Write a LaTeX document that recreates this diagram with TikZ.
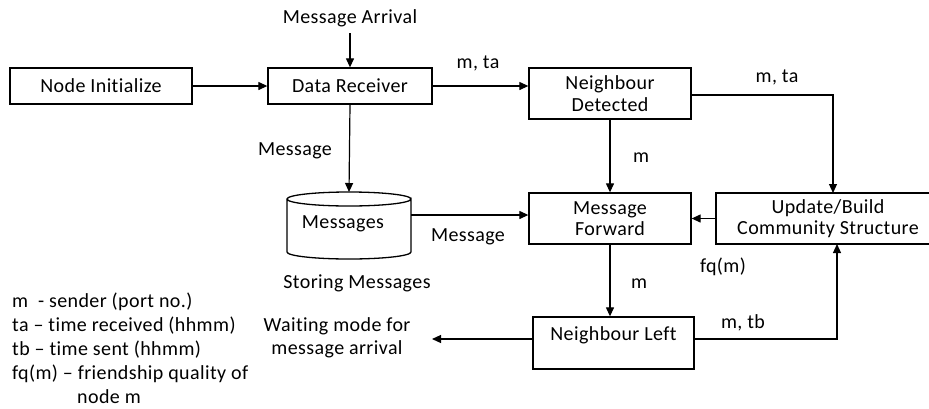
\documentclass[tikz,border=0pt]{standalone}
\usepackage{fontspec}
\setmainfont{Carlito}[Ligatures=NoCommon,LetterSpace=2]
\usetikzlibrary{arrows.meta,calc}
\begin{document}
\begin{tikzpicture}[x=1pt,y=-1pt,
  font=\fontsize{20}{21.5}\selectfont,
  box/.style={draw,line width=1.3pt,inner sep=0pt,align=center},
  lbl/.style={inner sep=0pt,align=center},
  leg/.style={inner sep=0pt,anchor=base west},
  arr/.style={line width=1.2pt,-{Triangle[length=9pt,width=8pt]}},
  ln/.style={line width=1.2pt}]
\useasboundingbox (0,0) rectangle (929,408);
\begin{scope}
\clip (0,0) rectangle (929,408);
% boxes
\node[box,minimum width=182pt,minimum height=36pt] (ni) at (101,86) {Node Initialize};
\node[box,minimum width=164pt,minimum height=36pt] (dr) at (350,86) {Data Receiver};
\node[box,minimum width=162pt,minimum height=51pt] (nd) at (610,93.5) {Neighbour\\Detected};
\node[box,minimum width=162pt,minimum height=51pt] (mf) at (610,218.5) {Message\\Forward};
\node[box,minimum width=224pt,minimum height=51pt] (up) at (828,218.5) {Update/Build\\Community Structure};
\node[box,minimum width=161pt,minimum height=52pt] (nl) at (613.5,343) {};
\node[lbl] (nltext) at (613.5,335) {Neighbour Left};
% cylinder
\draw[line width=1.3pt,fill=white] (287,199) -- (287,252) arc[start angle=180,end angle=360,x radius=62pt,y radius=7pt] -- (411,199) arc[start angle=0,end angle=-180,x radius=62pt,y radius=7pt] arc[start angle=180,end angle=360,x radius=62pt,y radius=-7pt];
\node[lbl] (msgs) at (343,224) {Messages};
\coordinate (cyltop) at (349,192);
\coordinate (cylright) at (411,215);
% texts
\node[lbl] (ma) at (350,18) {Message Arrival};
\coordinate (maend) at (350,33);
\node[lbl] (l1) at (478,63) {m, ta};
\node[lbl] (l2) at (777,77) {m, ta};
\node[lbl] (l3) at (641,158) {m};
\node[lbl] (l4) at (295,151) {Message};
\node[lbl] (l5) at (468,237) {Message};
\node[lbl] (l6) at (723,267) {fq(m)};
\node[lbl] (l7) at (639,284) {m};
\node[lbl] (l8) at (743,323) {m, tb};
\node[lbl] (sm) at (357,283) {Storing Messages};
\node[lbl,font=\fontsize{20}{23}\selectfont] (wt) at (337,338) {Waiting mode for\\message arrival};
\coordinate (wend) at (432,339);
\coordinate (upin) at (833,193);
\coordinate (upin2) at (837,244);
% legend
\node[leg] (g1) at (12,307) {m\ \ - sender (port no.)};
\node[leg] (g2) at (12,331) {ta – time received (hhmm)};
\node[leg] (g3) at (12,355) {tb – time sent (hhmm)};
\node[leg] (g4) at (12,379) {fq(m) – friendship quality of};
\node[leg] (g5) at (77,403) {node m};
% connectors
\draw[arr] (maend) -- (dr.north);
\draw[arr] (ni.east) -- (dr.west);
\draw[arr] (dr.east) -- (dr.east -| nd.west);
\draw[arr] (dr.south) -- (cyltop);
\draw[arr] (nd.east |- 0,95) -| (upin);
\draw[arr] (nd.south) -- (mf.north);
\draw[arr] (up.west) -- (mf.west -| mf.east);
\draw[arr] (cylright) -- (cylright -| mf.west);
\draw[arr] (mf.south) -- (mf.south |- nl.north);
\draw[arr] (nl.west |- wend) -- (wend);
\draw[arr] (nl.east |- 0,339) -| (upin2);
\end{scope}
\end{tikzpicture}
\end{document}
